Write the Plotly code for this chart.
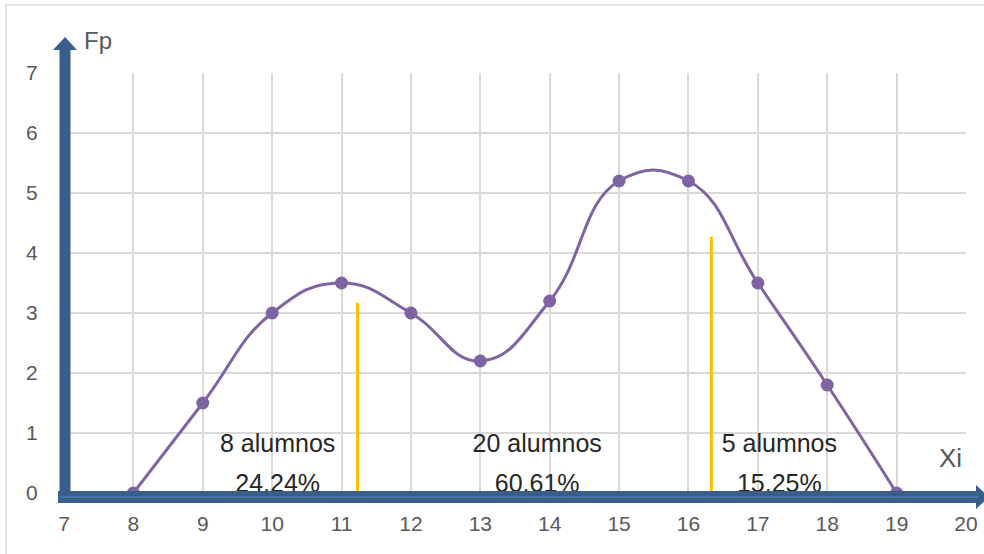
import plotly.graph_objects as go

# Frequency polygon data
xi = [8, 9, 10, 11, 12, 13, 14, 15, 16, 17, 18, 19]
fp = [0, 1.5, 3, 3.5, 3, 2.2, 3.2, 5.2, 5.2, 3.5, 1.8, 0]

# Cut lines (x position, height)
cut_x = [11.23, 16.33]
cut_top = [3.17, 4.27]
cut_bottom = [0, -0.2]

# Group labels
group_x = [10.08, 13.82, 17.31]
group_line1 = ["8 alumnos", "20 alumnos", "5 alumnos"]
group_line2 = ["24.24%", "60.61%", "15.25%"]
line1_y = 0.78
line2_y = 0.12

x_ticks = list(range(7, 21))
y_ticks = list(range(0, 8))

W, H = 984, 554
L, R, T, B = 64, 18, 73, 61
pw, ph = W - L - R, H - T - B


def px(X):
    return (X - L) / pw


def py(Y):
    return (H - B - Y) / ph


purple = "#8064A2"
yellow = "#FFC000"
axis_blue = "#3A5E8C"
grid = "#D9D9D9"
tick_gray = "#595959"

fig = go.Figure()

for cx, ct, cb in zip(cut_x, cut_top, cut_bottom):
    fig.add_trace(go.Scatter(
        x=[cx, cx], y=[cb, ct], mode="lines",
        line=dict(color=yellow, width=3), cliponaxis=False,
        hoverinfo="skip", showlegend=False))

fig.add_trace(go.Scatter(
    x=xi, y=fp, mode="lines+markers",
    line=dict(color=purple, width=3, shape="spline", smoothing=1.3),
    marker=dict(color=purple, size=13),
    showlegend=False))

text_font = dict(family="Liberation Sans", size=25, color="#262626")
fig.add_trace(go.Scatter(
    x=group_x, y=[line1_y] * 3, mode="text", text=group_line1,
    textfont=text_font, textposition="middle center", showlegend=False))
fig.add_trace(go.Scatter(
    x=group_x, y=[line2_y] * 3, mode="text", text=group_line2,
    textfont=text_font, textposition="middle center", showlegend=False))

shapes = []
# outer chart frame
shapes.append(dict(type="rect", xref="paper", yref="paper",
                   x0=px(6), x1=px(990), y0=py(560), y1=py(5),
                   line=dict(color=grid, width=1.5), layer="below"))

# vertical axis arrow
yx = 65
shapes.append(dict(type="path", xref="paper", yref="paper", layer="above",
                   path=f"M {px(yx-5.5)},{py(503)} L {px(yx+5.5)},{py(503)} "
                        f"L {px(yx+5.5)},{py(50)} L {px(yx+12)},{py(50)} "
                        f"L {px(yx)},{py(37)} L {px(yx-12)},{py(50)} "
                        f"L {px(yx-5.5)},{py(50)} Z",
                   fillcolor=axis_blue, line=dict(width=0)))
# horizontal axis arrow
ay = 497
shapes.append(dict(type="path", xref="paper", yref="paper", layer="above",
                   path=f"M {px(58)},{py(ay-6)} L {px(976)},{py(ay-6)} "
                        f"L {px(976)},{py(ay-12)} L {px(989)},{py(ay)} "
                        f"L {px(976)},{py(ay+12)} L {px(976)},{py(ay+6)} "
                        f"L {px(58)},{py(ay+6)} Z",
                   fillcolor=axis_blue, line=dict(width=0)))
shapes.append(dict(type="line", xref="paper", yref="paper", layer="above",
                   x0=px(60), x1=px(978), y0=py(ay), y1=py(ay),
                   line=dict(color="#6189BD", width=1)))

annotations = [
    dict(text="Fp", x=px(98), y=py(40), xref="paper", yref="paper",
         xanchor="center", yanchor="middle",
         showarrow=False, font=dict(family="Liberation Sans", size=24, color=tick_gray)),
    dict(text="Xi", x=px(950), y=py(458), xref="paper", yref="paper",
         xanchor="center", yanchor="middle",
         showarrow=False, font=dict(family="Liberation Sans", size=26, color=tick_gray)),
]

tick_font = dict(family="Liberation Sans", size=21, color=tick_gray)

fig.update_layout(
    width=W, height=H,
    margin=dict(l=L, r=R, t=T, b=B, autoexpand=False),
    paper_bgcolor="white", plot_bgcolor="white",
    shapes=shapes, annotations=annotations,
    xaxis=dict(range=[7, 20], tickmode="array", tickvals=x_ticks,
               ticktext=[str(v) for v in x_ticks], automargin=False,
               showgrid=True, gridcolor=grid,
               gridwidth=1.5, zeroline=False, showline=False,
               ticks="outside", ticklen=12, tickcolor="rgba(0,0,0,0)",
               tickfont=tick_font),
    yaxis=dict(range=[0, 7], tickmode="array", tickvals=y_ticks,
               ticktext=[str(v) for v in y_ticks], automargin=False,
               showgrid=True, gridcolor=grid,
               gridwidth=1.5, zeroline=False, showline=False,
               ticks="outside", ticklen=21, tickcolor="rgba(0,0,0,0)",
               tickfont=tick_font),
)

fig.write_html("out.html")
